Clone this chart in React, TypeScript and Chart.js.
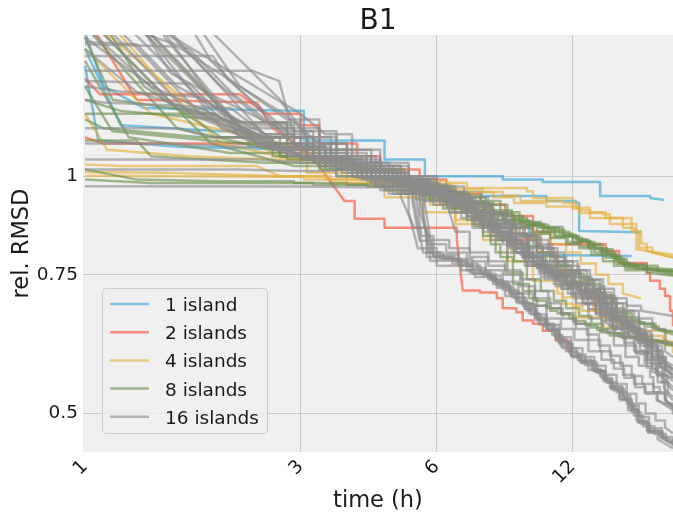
import React, { useEffect, useRef } from "react";
import { Chart, registerables } from "chart.js";

Chart.register(...registerables);

// ---- axis / legend definitions ----
const xTicks = [1, 3, 6, 12];
const yTicks = [0.5, 0.75, 1];
const yTickLabels = ["0.5", "0.75", "1"];
const groupLabels = ["1 island", "2 islands", "4 islands", "8 islands", "16 islands"];

// ---- runs: [time (h), rel. RMSD] ; a third element 0 = straight segment, otherwise a step ----
const blueRuns: number[][][] = [
  [[1, 1.52], [1.1, 1.3, 0], [1.35, 1.22, 0], [2.9, 1.21, 0], [3.05, 1.11], [4.6, 1.05], [5.65, 1.0], [8.4, 0.99], [10.3, 0.983], [13.8, 0.944], [17.8, 0.938], [19.1, 0.933, 0]],
  [[1, 1.38], [1.07, 1.11, 0], [1.6, 1.09, 0], [3.0, 1.08, 0], [3.2, 1.04], [4.7, 0.99], [6.0, 0.975], [6.4, 0.955], [7.55, 0.944], [10.5, 0.93], [12.2, 0.925], [12.4, 0.852], [17.0, 0.849, 0]],
  [[1, 1.45], [1.2, 1.16, 0], [2.0, 1.14, 0], [2.3, 1.09], [3.4, 1.07], [3.6, 1.02], [4.8, 1.0], [5.2, 0.96], [6.6, 0.95], [7.0, 0.91], [8.0, 0.9], [8.4, 0.87], [9.0, 0.86], [9.6, 0.795], [16.2, 0.792, 0]],
];

const redRuns: number[][][] = [
  [[1, 1.33], [1.08, 1.27, 0], [2.2, 1.27, 0], [2.5, 1.2, 0], [3.0, 1.16], [3.3, 1.1], [4.0, 1.06], [4.5, 1.02], [5.5, 0.99], [6.3, 0.95], [7.5, 0.92], [8.5, 0.89], [9.8, 0.85], [10.7, 0.82], [14.2, 0.804], [15.2, 0.776], [17.5, 0.754], [17.8, 0.737], [18.7, 0.72], [19.2, 0.705], [19.7, 0.675], [20, 0.647]],
  [[1, 1.12], [1.1, 1.1, 0], [2.9, 1.1, 0], [3.3, 1.03, 0], [3.75, 0.93, 0], [3.95, 0.883], [4.6, 0.86], [6.65, 0.83], [6.85, 0.716, 0], [7.48, 0.712], [8.15, 0.7], [8.4, 0.68], [9.0, 0.672], [9.3, 0.656], [9.8, 0.65], [10.3, 0.637], [11.0, 0.619], [11.7, 0.601], [11.9, 0.593]],
  [[1, 1.6], [1.3, 1.25, 0], [2.4, 1.24, 0], [2.6, 1.15, 0], [3.2, 1.06, 0], [3.9, 1.03], [4.6, 0.98], [5.3, 0.95], [6.1, 0.92], [7.2, 0.9], [8.0, 0.86], [9.0, 0.83], [10.0, 0.8], [11.0, 0.76], [11.6, 0.73], [12.4, 0.71], [13.0, 0.7], [13.5, 0.672], [15.0, 0.67, 0]],
];

const yellowRuns: number[][][] = [
  [[1, 1.001], [2.6, 0.998, 0], [3.05, 0.99], [4.3, 0.985], [6.35, 0.98], [7.0, 0.966], [9.5, 0.957], [9.8, 0.938], [12.0, 0.909], [12.4, 0.898], [14.0, 0.895], [14.5, 0.87], [16.6, 0.852], [17.0, 0.821], [17.5, 0.804], [20, 0.788, 0]],
  [[1, 1.035], [1.2, 1.03, 0], [2.4, 1.03, 0], [2.7, 1.0, 0], [3.4, 0.99], [4.6, 0.985], [5.4, 0.975], [6.5, 0.963], [7.6, 0.955], [8.4, 0.945], [9.2, 0.93], [11.4, 0.925], [12.2, 0.912], [13.1, 0.9], [14.2, 0.885], [16.2, 0.85], [16.6, 0.846], [16.8, 0.812], [18, 0.8], [20, 0.79, 0]],
  [[1, 1.7], [1.5, 1.3, 0], [2.0, 1.1, 0], [2.9, 1.05, 0], [3.7, 1.0], [4.5, 0.98], [5.6, 0.965], [6.6, 0.955], [8.0, 0.94], [8.9, 0.925], [10.5, 0.915], [12.4, 0.905], [13.1, 0.885], [15.5, 0.86], [16.4, 0.855], [16.6, 0.808], [20, 0.795, 0]],
  [[1, 1.2], [1.12, 1.08, 0], [1.7, 1.06, 0], [2.6, 1.05, 0], [3.1, 1.01], [3.8, 0.98], [4.6, 0.94], [5.6, 0.9], [6.6, 0.87], [7.8, 0.84], [8.8, 0.8], [9.8, 0.77], [10.7, 0.76], [11.1, 0.71], [11.4, 0.689], [12, 0.685], [12.6, 0.675], [13.8, 0.662], [14.9, 0.65], [16.0, 0.637], [16.9, 0.624], [17.5, 0.619], [18.7, 0.615], [19.3, 0.61], [20, 0.598]],
  [[1, 1.45], [1.4, 1.2, 0], [2.2, 1.13, 0], [3.0, 1.08, 0], [3.9, 1.0], [4.7, 0.96], [5.8, 0.92], [6.6, 0.88], [7.6, 0.83], [8.6, 0.78], [9.8, 0.737], [11.4, 0.702], [12.2, 0.662], [14.0, 0.643], [16.9, 0.637], [19.3, 0.614], [20, 0.61, 0]],
  [[1, 1.6], [1.8, 1.2, 0], [2.6, 1.07, 0], [3.3, 1.03], [4.0, 1.0], [4.9, 0.97], [5.8, 0.945], [6.7, 0.925], [7.6, 0.9], [8.5, 0.87], [9.4, 0.835], [10.2, 0.8], [11.0, 0.77], [11.8, 0.735], [12.5, 0.7], [13.3, 0.675], [14.2, 0.66], [15.2, 0.648], [16.3, 0.635], [17.5, 0.627], [19.0, 0.62], [20, 0.616, 0]],
  [[1, 1.012], [1.5, 1.01, 0], [2.8, 1.0, 0], [3.5, 0.98], [4.4, 0.97], [5.3, 0.955], [6.2, 0.935], [7.1, 0.91], [8.0, 0.89], [8.9, 0.87], [9.8, 0.845], [10.7, 0.82], [11.6, 0.8], [12.5, 0.775], [13.5, 0.75], [14.4, 0.73], [15.5, 0.71], [17.0, 0.7, 0]],
];

const greenRuns: number[][][] = [
  [[1, 1.2], [1.05, 1.2, 0], [1.95, 1.2, 0], [2.4, 1.1, 0], [3.0, 1.05], [3.6, 1.03], [4.4, 1.02], [5.1, 0.99], [5.8, 0.965], [6.5, 0.945], [7.5, 0.93], [8.3, 0.9], [9.15, 0.877], [9.8, 0.872], [10.1, 0.86], [11.2, 0.845], [12.0, 0.835], [12.6, 0.828], [13.1, 0.821], [13.8, 0.804], [14.5, 0.792], [15.2, 0.777], [16.0, 0.77], [18.5, 0.76], [20, 0.754, 0]],
  [[1, 1.55], [1.6, 1.15, 0], [2.6, 1.08, 0], [3.2, 1.04], [3.9, 1.02], [4.8, 0.99], [5.5, 0.97], [6.2, 0.95], [7.1, 0.925], [8.0, 0.905], [8.8, 0.885], [9.5, 0.87], [10.4, 0.858], [11.0, 0.85], [11.8, 0.838], [12.3, 0.83], [13.0, 0.815], [13.6, 0.81], [14.3, 0.797], [15.0, 0.785], [15.8, 0.772], [17.2, 0.765], [20, 0.758, 0]],
  [[1, 1.11], [1.3, 1.11, 0], [1.4, 1.06, 0], [2.5, 1.04, 0], [3.3, 1.02], [4.1, 1.01], [5.0, 0.98], [5.9, 0.955], [6.8, 0.94], [7.7, 0.92], [8.6, 0.89], [9.3, 0.875], [10.2, 0.862], [11.4, 0.843], [12.2, 0.832], [12.9, 0.825], [13.4, 0.808], [14.7, 0.79], [15.4, 0.774], [16.5, 0.766], [20, 0.75, 0]],
  [[1, 0.99], [1.4, 0.98, 0], [2.6, 0.98, 0], [3.2, 0.975], [4.2, 0.97], [5.2, 0.96], [6.0, 0.94], [6.9, 0.915], [7.9, 0.895], [8.9, 0.88], [9.6, 0.868], [10.6, 0.855], [11.5, 0.84], [12.4, 0.826], [13.2, 0.818], [14.0, 0.8], [14.9, 0.786], [15.6, 0.772], [17.5, 0.762], [20, 0.756, 0]],
  [[1, 1.4], [1.25, 1.12, 0], [2.1, 1.07, 0], [2.8, 1.05], [3.5, 1.03], [4.3, 1.0], [5.0, 0.97], [5.7, 0.94], [6.5, 0.91], [7.3, 0.885], [8.2, 0.86], [9.15, 0.84], [10.0, 0.8], [10.7, 0.78], [11.5, 0.76], [12.2, 0.745], [13.0, 0.73], [13.8, 0.706], [14.7, 0.675], [15.8, 0.656], [16.9, 0.65], [18.1, 0.643], [20, 0.634, 0]],
  [[1, 1.3], [1.15, 1.14, 0], [2.2, 1.1, 0], [2.7, 1.06], [3.4, 1.02], [4.0, 1.0], [4.9, 0.975], [5.6, 0.95], [6.3, 0.925], [7.0, 0.9], [7.9, 0.87], [8.8, 0.845], [9.5, 0.815], [10.3, 0.792], [11.1, 0.77], [11.9, 0.752], [12.7, 0.738], [13.4, 0.72], [14.1, 0.7], [15.0, 0.67], [16.2, 0.653], [17.3, 0.645], [18.6, 0.638], [20, 0.63, 0]],
  [[1, 1.6], [1.9, 1.1, 0], [2.9, 1.03, 0], [3.6, 1.0], [4.4, 0.97], [5.0, 0.95], [5.8, 0.93], [6.6, 0.9], [7.3, 0.865], [7.9, 0.82], [8.3, 0.79], [8.85, 0.73], [9.6, 0.7], [10.0, 0.685], [10.7, 0.675], [11.1, 0.67], [11.8, 0.66], [12.2, 0.65], [13.1, 0.643], [13.8, 0.634], [14.5, 0.628], [15.5, 0.623], [17.1, 0.618], [19.0, 0.614], [20, 0.61, 0]],
  [[1, 1.18], [1.1, 1.15, 0], [1.8, 1.12, 0], [2.6, 1.06], [3.3, 1.03], [4.1, 0.995], [4.8, 0.97], [5.5, 0.945], [6.3, 0.915], [7.0, 0.88], [7.6, 0.84], [8.1, 0.8], [8.6, 0.755], [9.3, 0.715], [9.9, 0.695], [10.5, 0.68], [11.3, 0.668], [12.0, 0.655], [12.8, 0.647], [13.6, 0.638], [14.3, 0.632], [15.2, 0.626], [16.6, 0.62], [18.5, 0.617], [20, 0.612, 0]],
  [[1, 1.5], [1.15, 1.25, 0], [1.9, 1.2, 0], [2.5, 1.12, 0], [3.1, 1.06], [3.8, 1.03], [4.4, 1.01], [5.2, 0.98], [6.1, 0.95], [6.9, 0.925], [7.7, 0.895], [8.5, 0.875], [9.4, 0.865], [10.3, 0.85], [11.0, 0.84], [12.0, 0.825], [13.0, 0.81], [13.9, 0.795], [14.8, 0.78], [15.6, 0.768], [20, 0.762, 0]],
  [[1, 1.02], [1.3, 0.99, 0], [2.0, 0.985, 0], [2.9, 0.98], [3.8, 0.975], [4.6, 0.96], [5.4, 0.935], [6.2, 0.91], [7.0, 0.89], [7.8, 0.86], [8.8, 0.82], [9.6, 0.79], [10.4, 0.77], [11.3, 0.75], [12.1, 0.735], [13.0, 0.718], [13.8, 0.7], [14.6, 0.68], [15.6, 0.662], [16.8, 0.65], [18.3, 0.64], [20, 0.636, 0]],
  [[1, 1.7], [1.35, 1.3, 0], [2.0, 1.12, 0], [2.7, 1.06], [3.4, 1.03], [4.1, 1.0], [4.9, 0.975], [5.6, 0.955], [6.4, 0.93], [7.2, 0.905], [8.0, 0.88], [8.9, 0.86], [9.8, 0.845], [10.7, 0.835], [11.6, 0.82], [12.4, 0.81], [13.2, 0.795], [14.0, 0.78], [14.8, 0.77], [15.7, 0.76], [17.5, 0.755], [20, 0.748, 0]],
  [[1, 1.25], [1.2, 1.21, 0], [2.3, 1.17, 0], [2.8, 1.09], [3.4, 1.04], [4.0, 1.01], [4.7, 0.985], [5.4, 0.96], [6.1, 0.935], [6.8, 0.905], [7.5, 0.87], [8.2, 0.83], [8.9, 0.78], [9.5, 0.74], [10.2, 0.715], [10.9, 0.695], [11.6, 0.68], [12.4, 0.665], [13.2, 0.65], [14.0, 0.64], [14.9, 0.632], [16.0, 0.626], [17.6, 0.62], [20, 0.615, 0]],
  [[1, 1.85], [2.2, 1.15, 0], [3.0, 1.06, 0], [3.7, 1.03], [4.5, 1.0], [5.3, 0.97], [6.0, 0.95], [6.8, 0.925], [7.6, 0.9], [8.4, 0.88], [9.2, 0.865], [10.0, 0.85], [10.9, 0.837], [11.7, 0.825], [12.5, 0.815], [13.4, 0.8], [14.2, 0.788], [15.0, 0.775], [15.9, 0.765], [20, 0.758, 0]],
];

const grayRuns: number[][][] = [
  // fast bundle
  [[1, 1.9], [2.0, 1.15, 0], [2.7, 1.08, 0], [3.3, 1.04], [3.9, 1.0], [4.5, 0.96], [5.3, 0.93], [5.5, 0.828, 0], [5.8, 0.781], [6.95, 0.774], [7.1, 0.754], [7.85, 0.743], [8.15, 0.722], [8.9, 0.7], [9.5, 0.675], [10.0, 0.656], [10.6, 0.637], [11.2, 0.613], [12.0, 0.589], [12.6, 0.579], [13.6, 0.563], [14.0, 0.551], [14.5, 0.54], [15.5, 0.524], [16.0, 0.509], [16.6, 0.49], [17.5, 0.476], [18.7, 0.467], [20, 0.456]],
  [[1, 1.7], [1.8, 1.2, 0], [2.6, 1.1, 0], [3.2, 1.05], [3.8, 1.01], [4.4, 0.97], [5.0, 0.94], [5.35, 0.86, 0], [5.7, 0.79], [6.6, 0.78], [7.0, 0.76], [7.6, 0.748], [8.3, 0.728], [8.7, 0.71], [9.3, 0.685], [9.9, 0.662], [10.4, 0.645], [11.0, 0.622], [11.6, 0.6], [12.3, 0.585], [13.2, 0.57], [13.8, 0.558], [14.3, 0.547], [15.0, 0.532], [15.8, 0.515], [16.4, 0.497], [17.2, 0.482], [18.2, 0.471], [19.3, 0.462], [20, 0.458, 0]],
  [[1, 2.1], [2.2, 1.12, 0], [2.9, 1.06, 0], [3.5, 1.02], [4.1, 0.99], [4.8, 0.95], [5.6, 0.9], [5.75, 0.8, 0], [6.2, 0.785], [7.2, 0.765], [7.7, 0.75], [8.0, 0.735], [8.6, 0.715], [9.1, 0.69], [9.7, 0.668], [10.2, 0.65], [10.9, 0.628], [11.4, 0.605], [12.2, 0.594], [12.8, 0.576], [13.4, 0.566], [14.2, 0.548], [14.8, 0.535], [15.3, 0.52], [16.2, 0.502], [17.0, 0.485], [17.8, 0.474], [19.0, 0.465], [20, 0.46, 0]],
  [[1, 1.6], [1.6, 1.22, 0], [2.4, 1.12, 0], [3.0, 1.06], [3.6, 1.02], [4.2, 0.985], [4.9, 0.95], [5.2, 0.9], [5.45, 0.81, 0], [6.0, 0.77], [6.8, 0.76], [7.3, 0.745], [8.0, 0.73], [8.5, 0.705], [9.0, 0.692], [9.6, 0.67], [10.1, 0.648], [10.8, 0.63], [11.3, 0.608], [11.9, 0.592], [12.5, 0.58], [13.0, 0.568], [13.9, 0.555], [14.6, 0.538], [15.2, 0.522], [15.9, 0.505], [16.8, 0.487], [17.6, 0.473], [18.5, 0.464], [20, 0.452, 0]],
  [[1, 1.8], [2.4, 1.1, 0], [3.1, 1.05, 0], [3.7, 1.01], [4.3, 0.98], [5.0, 0.955], [5.65, 0.92], [5.9, 0.79, 0], [6.5, 0.775], [7.4, 0.758], [7.9, 0.738], [8.4, 0.718], [9.0, 0.695], [9.4, 0.68], [10.0, 0.66], [10.5, 0.64], [11.1, 0.618], [11.8, 0.597], [12.4, 0.583], [13.3, 0.567], [14.1, 0.553], [14.7, 0.542], [15.4, 0.527], [16.1, 0.512], [16.8, 0.495], [17.7, 0.479], [18.9, 0.469], [20, 0.462, 0]],
  [[1, 1.55], [1.5, 1.25, 0], [2.3, 1.13, 0], [2.9, 1.07], [3.4, 1.03], [4.0, 0.995], [4.6, 0.965], [5.4, 0.945], [5.55, 0.84, 0], [5.9, 0.795], [6.7, 0.77], [7.2, 0.752], [7.8, 0.74], [8.2, 0.725], [8.8, 0.703], [9.4, 0.678], [9.9, 0.658], [10.5, 0.64], [11.2, 0.616], [11.9, 0.591], [12.5, 0.582], [13.5, 0.565], [14.1, 0.55], [14.6, 0.537], [15.6, 0.521], [16.2, 0.506], [16.7, 0.488], [17.6, 0.475], [18.8, 0.466], [20, 0.457, 0]],
  [[1, 1.05], [2.4, 1.05, 0], [3.1, 1.04, 0], [3.7, 1.02], [4.3, 1.0], [4.9, 0.98], [5.3, 0.955], [5.6, 0.8, 0], [6.1, 0.785], [6.8, 0.77], [7.5, 0.752], [8.1, 0.73], [8.7, 0.71], [9.3, 0.688], [9.9, 0.668], [10.5, 0.648], [11.2, 0.625], [11.9, 0.605], [12.6, 0.59], [13.4, 0.575], [14.2, 0.56], [15.0, 0.545], [15.8, 0.53], [16.6, 0.515], [17.4, 0.5], [18.3, 0.49], [19.2, 0.48], [20, 0.472, 0]],
  [[1, 1.47], [1.6, 1.46, 0], [2.2, 1.3, 0], [2.8, 1.18, 0], [3.3, 1.1], [3.8, 1.05], [4.5, 1.01], [5.1, 0.98], [5.5, 0.94], [5.75, 0.82, 0], [6.3, 0.8], [7.0, 0.78], [7.7, 0.76], [8.4, 0.735], [9.1, 0.71], [9.8, 0.685], [10.5, 0.66], [11.3, 0.64], [12.1, 0.62], [13.0, 0.6], [13.9, 0.585], [14.8, 0.57], [15.6, 0.555], [16.5, 0.54], [17.4, 0.53], [18.4, 0.52], [20, 0.51, 0]],
  [[1, 1.9], [1.4, 1.6, 0], [2.0, 1.3, 0], [2.5, 1.17, 0], [3.0, 1.1], [3.6, 1.05], [4.2, 1.02], [4.8, 0.99], [5.3, 0.965], [5.5, 0.9], [5.8, 0.83, 0], [6.4, 0.81], [7.1, 0.79], [7.8, 0.77], [8.5, 0.75], [9.2, 0.725], [9.9, 0.7], [10.7, 0.68], [11.4, 0.66], [12.2, 0.64], [13.0, 0.62], [13.8, 0.6], [14.6, 0.58], [15.5, 0.56], [16.4, 0.545], [17.3, 0.532], [18.5, 0.52], [20, 0.505, 0]],
  [[1, 2.0], [1.55, 1.35, 0], [2.0, 1.25, 0], [2.7, 1.15, 0], [3.3, 1.08], [3.9, 1.04], [4.5, 1.01], [5.2, 0.985], [5.8, 0.96], [6.3, 0.93], [6.6, 0.85, 0], [7.1, 0.8], [7.8, 0.78], [8.5, 0.76], [9.2, 0.74], [9.9, 0.715], [10.6, 0.69], [11.3, 0.67], [12.1, 0.65], [12.9, 0.63], [13.7, 0.61], [14.5, 0.592], [15.3, 0.575], [16.2, 0.558], [17.1, 0.545], [18.1, 0.532], [19.2, 0.52], [20, 0.512, 0]],
  // middle bundle
  [[1, 1.75], [2.0, 1.18, 0], [2.8, 1.09, 0], [3.4, 1.04], [4.0, 1.01], [4.6, 0.985], [5.3, 0.96], [6.0, 0.94], [6.4, 0.925], [7.2, 0.88], [7.8, 0.855], [8.4, 0.828], [9.3, 0.788], [10.0, 0.765], [10.3, 0.754], [11.0, 0.737], [11.8, 0.722], [12.6, 0.71], [13.6, 0.695], [14.0, 0.675], [14.5, 0.656], [15.5, 0.643], [16.6, 0.631], [17.5, 0.619], [18.1, 0.601], [18.7, 0.572], [19.0, 0.556], [20, 0.54, 0]],
  [[1, 1.5], [1.4, 1.3, 0], [2.5, 1.12, 0], [3.1, 1.06], [3.7, 1.03], [4.3, 1.0], [5.0, 0.975], [5.7, 0.95], [6.5, 0.915], [7.4, 0.875], [8.1, 0.845], [8.8, 0.81], [9.6, 0.78], [10.4, 0.758], [11.2, 0.745], [12.0, 0.73], [12.8, 0.716], [13.8, 0.706], [14.7, 0.67], [15.2, 0.656], [16.0, 0.637], [16.9, 0.601], [17.5, 0.572], [17.8, 0.556], [18.1, 0.54], [18.7, 0.53], [19.3, 0.515], [20, 0.5]],
  [[1, 2.0], [2.6, 1.1, 0], [3.2, 1.05, 0], [3.8, 1.02], [4.5, 0.99], [5.2, 0.965], [5.9, 0.945], [6.6, 0.92], [7.0, 0.89], [7.6, 0.862], [8.2, 0.835], [9.0, 0.8], [9.8, 0.772], [10.6, 0.752], [11.5, 0.732], [12.3, 0.716], [13.2, 0.702], [13.9, 0.685], [14.6, 0.662], [15.3, 0.648], [16.3, 0.633], [17.0, 0.615], [17.6, 0.59], [18.3, 0.565], [18.9, 0.548], [19.5, 0.528], [20, 0.52, 0]],
  [[1, 1.65], [1.7, 1.2, 0], [2.7, 1.08, 0], [3.3, 1.03], [3.9, 1.0], [4.7, 0.97], [5.5, 0.945], [6.2, 0.93], [6.9, 0.9], [7.5, 0.87], [8.0, 0.85], [8.6, 0.815], [9.4, 0.79], [10.2, 0.762], [10.9, 0.745], [11.6, 0.728], [12.4, 0.714], [13.4, 0.699], [14.2, 0.68], [14.9, 0.66], [15.8, 0.645], [16.7, 0.628], [17.3, 0.608], [17.9, 0.578], [18.5, 0.558], [19.1, 0.538], [20, 0.525, 0]],
  [[1, 1.45], [1.3, 1.28, 0], [2.3, 1.15, 0], [2.9, 1.08], [3.5, 1.04], [4.1, 1.01], [4.9, 0.98], [5.6, 0.96], [6.3, 0.935], [7.0, 0.905], [7.7, 0.868], [8.5, 0.83], [9.2, 0.795], [10.1, 0.768], [10.8, 0.75], [11.6, 0.734], [12.5, 0.718], [13.5, 0.7], [14.3, 0.668], [15.0, 0.652], [15.9, 0.64], [16.8, 0.62], [17.4, 0.598], [18.0, 0.57], [18.5, 0.548], [19.2, 0.522], [20, 0.508, 0]],
  [[1, 1.85], [2.3, 1.13, 0], [3.0, 1.06, 0], [3.6, 1.03], [4.2, 1.0], [5.0, 0.97], [5.8, 0.95], [6.6, 0.93], [7.3, 0.895], [7.9, 0.86], [8.7, 0.825], [9.5, 0.79], [10.3, 0.765], [11.1, 0.745], [11.9, 0.728], [12.8, 0.712], [13.7, 0.69], [14.4, 0.665], [15.3, 0.65], [16.2, 0.638], [17.2, 0.625], [17.9, 0.605], [18.6, 0.58], [19.2, 0.56], [20, 0.55, 0]],
  [[1, 1.75], [3.0, 1.2, 0], [3.4, 1.13, 0], [3.9, 1.08], [4.5, 1.03], [5.2, 1.0], [5.9, 0.97], [6.6, 0.94], [7.3, 0.9], [8.0, 0.86], [8.7, 0.82], [9.4, 0.78], [10.1, 0.755], [10.9, 0.73], [11.7, 0.71], [12.6, 0.69], [13.5, 0.67], [14.5, 0.645], [15.4, 0.625], [16.4, 0.6], [17.3, 0.58], [18.4, 0.56], [19.4, 0.545], [20, 0.535, 0]],
  // others
  [[1, 0.971], [3.0, 0.97, 0], [4.3, 0.968, 0], [4.7, 0.95], [5.6, 0.93], [6.4, 0.9], [7.2, 0.87], [8.0, 0.84], [8.7, 0.81], [9.5, 0.77], [10.4, 0.74], [11.3, 0.72], [12.1, 0.7], [13.0, 0.678], [13.9, 0.655], [14.8, 0.628], [15.7, 0.61], [16.6, 0.595], [17.5, 0.585], [18.6, 0.575], [20, 0.565, 0]],
  [[1, 1.02], [2.2, 1.02, 0], [2.9, 1.015, 0], [3.6, 1.0], [4.4, 0.975], [5.1, 0.95], [5.9, 0.92], [6.8, 0.885], [7.6, 0.85], [8.4, 0.82], [9.3, 0.79], [10.2, 0.76], [11.0, 0.745], [11.9, 0.725], [12.8, 0.705], [13.7, 0.68], [14.6, 0.66], [15.6, 0.645], [16.5, 0.63], [17.5, 0.61], [18.5, 0.59], [20, 0.575, 0]],
  [[1, 1.42], [1.92, 1.42, 0], [2.06, 1.33, 0], [2.9, 1.12, 0], [3.5, 1.07], [4.2, 1.03], [5.0, 0.99], [5.8, 0.96], [6.6, 0.93], [7.4, 0.9], [8.2, 0.87], [9.0, 0.845], [9.9, 0.82], [10.8, 0.79], [11.6, 0.76], [12.4, 0.74], [13.3, 0.72], [14.1, 0.695], [15.0, 0.68], [15.6, 0.67, 0]],
  [[1, 1.36], [2.35, 1.36, 0], [2.69, 1.32, 0], [2.88, 1.14, 0], [3.6, 1.08], [4.3, 1.04], [5.2, 1.0], [6.0, 0.97], [6.9, 0.94], [7.8, 0.9], [8.6, 0.87], [9.4, 0.84], [10.2, 0.81], [11.1, 0.78], [12.0, 0.76], [12.9, 0.738], [13.8, 0.712], [14.6, 0.69], [15.5, 0.675], [16.4, 0.66], [17.3, 0.65, 0]],
  [[1, 2.4], [1.5, 1.5, 0], [2.3, 1.12, 0], [3.2, 1.05, 0], [3.9, 1.02], [4.6, 0.99], [5.4, 0.96], [6.2, 0.935], [7.0, 0.915], [7.9, 0.89], [8.8, 0.86], [9.7, 0.83], [10.6, 0.8], [11.5, 0.78], [12.3, 0.76], [13.1, 0.74], [14.0, 0.72], [14.8, 0.7], [15.8, 0.685], [17.0, 0.675], [20, 0.665, 0]],
  [[1, 2.6], [1.9, 1.4, 0], [2.9, 1.1, 0], [3.5, 1.06], [4.1, 1.03], [4.8, 1.0], [5.5, 0.97], [6.3, 0.945], [7.1, 0.92], [7.9, 0.88], [8.7, 0.845], [9.5, 0.81], [10.3, 0.78], [11.2, 0.755], [12.1, 0.73], [12.9, 0.7], [13.8, 0.668], [14.7, 0.64], [15.6, 0.615], [16.5, 0.598], [17.5, 0.585], [18.8, 0.572], [20, 0.56, 0]],
  [[1, 1.25], [1.1, 1.24, 0], [2.1, 1.22, 0], [2.5, 1.13, 0], [3.1, 1.06], [3.7, 1.02], [4.4, 0.99], [5.1, 0.96], [5.9, 0.93], [6.5, 0.9], [7.2, 0.86], [7.9, 0.83], [8.6, 0.8], [9.4, 0.77], [10.2, 0.745], [11.0, 0.725], [11.9, 0.705], [12.7, 0.688], [13.5, 0.668], [14.2, 0.652], [15.0, 0.64, 0]],
  [[1, 1.3], [1.2, 1.28, 0], [1.8, 1.26, 0], [2.2, 1.17, 0], [2.8, 1.09], [3.4, 1.05], [4.0, 1.02], [4.8, 0.99], [5.6, 0.965], [6.4, 0.94], [7.2, 0.905], [8.0, 0.87], [8.8, 0.835], [9.6, 0.8], [10.5, 0.775], [11.4, 0.752], [12.2, 0.73], [13.1, 0.712], [14.0, 0.69], [14.9, 0.665], [15.8, 0.65], [16.8, 0.635], [17.9, 0.61], [18.9, 0.585], [20, 0.57, 0]],
  [[1, 1.1], [1.5, 1.1, 0], [2.2, 1.09, 0], [2.8, 1.06], [3.5, 1.03], [4.2, 1.01], [4.9, 0.985], [5.7, 0.955], [6.5, 0.925], [7.3, 0.89], [8.0, 0.85], [8.7, 0.82], [9.5, 0.79], [10.3, 0.77], [11.1, 0.75], [12.0, 0.73], [12.9, 0.71], [13.7, 0.69], [14.6, 0.67], [15.5, 0.655], [16.4, 0.64], [17.4, 0.615], [18.4, 0.59], [19.3, 0.57], [20, 0.555, 0]],
  [[1, 1.48], [1.3, 1.47, 0], [1.6, 1.3, 0], [2.3, 1.16, 0], [2.9, 1.09], [3.5, 1.05], [4.1, 1.02], [4.9, 0.99], [5.6, 0.96], [6.4, 0.935], [7.2, 0.9], [8.0, 0.87], [8.9, 0.84], [9.8, 0.815], [10.7, 0.79], [11.5, 0.77], [12.4, 0.745], [13.2, 0.725], [14.1, 0.705], [14.9, 0.69], [15.8, 0.675], [16.8, 0.66], [18.0, 0.64], [19.2, 0.62], [20, 0.61, 0]],
  [[1, 2.2], [2.7, 1.25, 0], [3.1, 1.12, 0], [3.6, 1.06], [4.3, 1.02], [5.0, 0.99], [5.7, 0.96], [6.3, 0.93], [6.8, 0.9], [7.5, 0.86], [8.3, 0.83], [9.0, 0.8], [9.8, 0.77], [10.6, 0.745], [11.4, 0.72], [12.2, 0.69], [13.0, 0.66], [13.9, 0.635], [14.8, 0.61], [15.7, 0.59], [16.8, 0.575], [18.0, 0.565], [20, 0.555, 0]],
  [[1, 1.15], [1.6, 1.15, 0], [1.9, 1.12, 0], [2.6, 1.08], [3.3, 1.05], [3.9, 1.02], [4.6, 1.0], [5.3, 0.975], [6.0, 0.95], [6.8, 0.92], [7.6, 0.88], [8.3, 0.845], [9.0, 0.81], [9.8, 0.78], [10.6, 0.755], [11.5, 0.73], [12.3, 0.715], [13.2, 0.695], [14.0, 0.675], [14.9, 0.655], [15.8, 0.635], [16.7, 0.615], [17.6, 0.595], [18.6, 0.58], [20, 0.57, 0]],
  [[1, 2.5], [2.2, 1.3, 0], [2.75, 1.2, 0], [3.3, 1.1, 0], [3.8, 1.06], [4.4, 1.03], [5.0, 1.0], [5.6, 0.975], [6.3, 0.955], [7.0, 0.93], [7.7, 0.9], [8.5, 0.87], [9.3, 0.84], [10.1, 0.81], [10.9, 0.78], [11.7, 0.755], [12.5, 0.73], [13.3, 0.71], [14.2, 0.69], [15.0, 0.665], [16.0, 0.645], [16.9, 0.63], [18.0, 0.615], [19.2, 0.6], [20, 0.59, 0]],
  [[1, 1.7], [1.2, 1.55, 0], [1.7, 1.45, 0], [2.1, 1.28, 0], [2.7, 1.14, 0], [3.2, 1.08], [3.8, 1.04], [4.4, 1.01], [5.1, 0.98], [5.8, 0.955], [6.5, 0.93], [7.2, 0.9], [7.9, 0.86], [8.6, 0.825], [9.3, 0.79], [10.0, 0.765], [10.8, 0.745], [11.7, 0.725], [12.5, 0.705], [13.4, 0.685], [14.2, 0.66], [15.0, 0.64], [15.9, 0.625], [16.9, 0.61], [18.0, 0.59], [19.2, 0.57], [20, 0.56, 0]],
  [[1, 1.32], [1.7, 1.31, 0], [2.0, 1.2, 0], [2.6, 1.12, 0], [3.2, 1.07], [3.8, 1.04], [4.5, 1.0], [5.2, 0.97], [5.9, 0.94], [6.7, 0.91], [7.4, 0.88], [8.1, 0.84], [8.9, 0.8], [9.6, 0.775], [10.4, 0.75], [11.2, 0.73], [12.0, 0.71], [12.9, 0.69], [13.8, 0.665], [14.7, 0.645], [15.6, 0.63], [16.6, 0.62], [17.8, 0.6], [19.0, 0.58], [20, 0.568, 0]],
];

const groupRuns = [blueRuns, redRuns, yellowRuns, greenRuns, grayRuns];
const groupColors = ["48,162,218", "252,79,48", "229,174,56", "109,144,79", "139,139,139"];

const FONT = "'DejaVu Sans', 'Liberation Sans', sans-serif";

function expand(run: number[][]) {
  const out: { x: number; y: number }[] = [];
  run.forEach((p, i) => {
    if (i > 0 && p.length < 3) out.push({ x: p[0], y: out[out.length - 1].y });
    out.push({ x: p[0], y: p[1] });
  });
  return out;
}

const decorPlugin = {
  id: "decor",
  beforeDraw(chart: any) {
    const { ctx, chartArea: a } = chart;
    ctx.save();
    ctx.fillStyle = "#ffffff";
    ctx.fillRect(0, 0, chart.width, chart.height);
    ctx.fillStyle = "#f0f0f0";
    ctx.fillRect(a.left, a.top, a.right - a.left, a.bottom - a.top);
    ctx.restore();
  },
  afterDraw(chart: any) {
    const { ctx, chartArea: a } = chart;
    const cx = (a.left + a.right) / 2;
    ctx.save();
    ctx.fillStyle = "#1a1a1a";
    ctx.textAlign = "center";
    ctx.textBaseline = "alphabetic";
    ctx.font = `28px ${FONT}`;
    ctx.fillText("B1", cx, 29);
    ctx.font = `22.5px ${FONT}`;
    ctx.fillText("time (h)", cx, 507);
    ctx.save();
    ctx.translate(28, (a.top + a.bottom) / 2);
    ctx.rotate(-Math.PI / 2);
    ctx.fillText("rel. RMSD", 0, 0);
    ctx.restore();

    // legend
    const lx = 102.5, ly = 288.5, lw = 165, lh = 145;
    ctx.beginPath();
    (ctx as any).roundRect(lx, ly, lw, lh, 4);
    ctx.fillStyle = "rgba(240,240,240,0.8)";
    ctx.fill();
    ctx.strokeStyle = "#cccccc";
    ctx.lineWidth = 1;
    ctx.stroke();
    ctx.font = `18.5px ${FONT}`;
    ctx.textAlign = "left";
    groupLabels.forEach((lab, i) => {
      const yb = 311 + i * 28.2;
      const ym = yb - 7;
      ctx.beginPath();
      ctx.moveTo(110, ym);
      ctx.lineTo(149, ym);
      ctx.strokeStyle = `rgba(${groupColors[i]},0.6)`;
      ctx.lineWidth = 2.5;
      ctx.stroke();
      ctx.fillStyle = "#1a1a1a";
      ctx.fillText(lab, 165, yb);
    });
    ctx.restore();
  },
};

export default function App() {
  const ref = useRef<HTMLCanvasElement | null>(null);
  useEffect(() => {
    if (!ref.current) return;
    const datasets: any[] = [];
    groupRuns.forEach((runs, gi) => {
      runs.forEach((run) => {
        datasets.push({
          label: groupLabels[gi],
          data: expand(run),
          borderColor: `rgba(${groupColors[gi]},0.62)`,
          borderWidth: 2.5,
          pointRadius: 0,
          tension: 0,
          fill: false,
          order: 4 - gi,
          borderJoinStyle: "round",
        });
      });
    });
    const chart = new Chart(ref.current, {
      type: "line",
      data: { datasets },
      options: {
        animation: false,
        responsive: false,
        devicePixelRatio: 1,
        layout: { padding: { top: 35, left: 0, right: 0, bottom: 0 } },
        plugins: { legend: { display: false }, tooltip: { enabled: false }, title: { display: false } },
        scales: {
          x: {
            type: "logarithmic",
            min: 0.99,
            max: 20,
            afterBuildTicks: (s: any) => {
              s.ticks = xTicks.map((v) => ({ value: v }));
            },
            afterFit: (s: any) => {
              s.height = 64;
              s.paddingLeft = 0;
              s.paddingRight = 0;
            },
            ticks: {
              autoSkip: false,
              minRotation: 45,
              maxRotation: 45,
              padding: 4,
              color: "#1a1a1a",
              font: { family: FONT, size: 18.5 },
              callback: (v: any) => String(v),
            },
            grid: {
              drawTicks: false,
              lineWidth: 1,
              color: (c: any) => (c.tick && c.tick.value === 1 ? "rgba(0,0,0,0)" : "#cbcbcb"),
            },
            border: { display: false },
          },
          y: {
            type: "logarithmic",
            min: 0.447,
            max: 1.51,
            afterBuildTicks: (s: any) => {
              s.ticks = yTicks.map((v) => ({ value: v }));
            },
            afterFit: (s: any) => {
              s.width = 83;
            },
            ticks: {
              autoSkip: false,
              padding: 5,
              color: "#1a1a1a",
              font: { family: FONT, size: 18.5 },
              callback: (v: any) => yTickLabels[yTicks.indexOf(Number(v))] ?? "",
            },
            grid: { drawTicks: false, lineWidth: 1, color: "#cbcbcb" },
            border: { display: false },
          },
        },
      },
      plugins: [decorPlugin],
    });
    return () => chart.destroy();
  }, []);
  return (
    <div style={{ position: "absolute", left: 0, top: 0, width: 673, height: 516 }}>
      <canvas ref={ref} width={673} height={516} style={{ display: "block" }} />
    </div>
  );
}
